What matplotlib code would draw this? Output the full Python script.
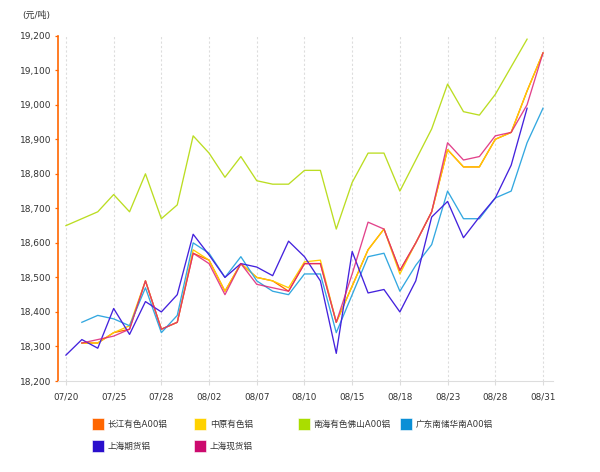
import numpy as np
import matplotlib
matplotlib.use("Agg")
import matplotlib.pyplot as plt
from matplotlib.patches import Rectangle

plt.rcParams["font.family"] = ["DejaVu Sans", "Noto Sans CJK SC"]

# ---- Data (yuan/ton) ----
dates = [
    "07/20", "07/21", "07/24", "07/25", "07/26", "07/27", "07/28", "07/31",
    "08/01", "08/02", "08/03", "08/04", "08/07", "08/08", "08/09", "08/10",
    "08/11", "08/14", "08/15", "08/16", "08/17", "08/18", "08/21", "08/22",
    "08/23", "08/24", "08/25", "08/28", "08/29", "08/30", "08/31",
]

changjiang = [None, 18310, 18310, 18340, 18350, 18490, 18350, 18370, 18570, 18550,
              18460, 18540, 18500, 18490, 18460, 18540, 18540, 18370, 18475, 18580,
              18640, 18520, 18600, 18690, 18870, 18820, 18820, 18900, 18920, 19040, 19150]
zhongyuan = [None, 18310, 18310, 18340, 18360, 18490, 18350, 18370, 18580, 18550,
             18460, 18540, 18500, 18490, 18470, 18545, 18550, 18370, 18475, 18580,
             18640, 18510, 18600, 18690, 18870, 18820, 18820, 18900, 18920, 19040, 19150]
nanhai = [18650, 18670, 18690, 18740, 18690, 18800, 18670, 18710, 18910, 18860,
          18790, 18850, 18780, 18770, 18770, 18810, 18810, 18640, 18775, 18860,
          18860, 18750, 18840, 18930, 19060, 18980, 18970, 19030, 19110, 19190, None]
guangdong = [None, 18370, 18390, 18380, 18360, 18470, 18340, 18390, 18600, 18570,
             18500, 18560, 18490, 18460, 18450, 18510, 18510, 18340, 18450, 18560,
             18570, 18460, 18535, 18595, 18750, 18670, 18670, 18730, 18750, 18890, 18990]
sh_futures = [18275, 18320, 18295, 18410, 18335, 18430, 18400, 18450, 18625, 18565,
              18500, 18540, 18530, 18505, 18605, 18560, 18490, 18280, 18575, 18455,
              18465, 18400, 18490, 18675, 18720, 18615, 18675, 18730, 18825, 18990, None]
sh_spot = [None, 18310, 18320, 18330, 18350, 18490, 18350, 18370, 18570, 18540,
           18450, 18540, 18480, 18470, 18460, 18540, 18540, 18370, 18510, 18660,
           18640, 18520, 18600, 18690, 18890, 18840, 18850, 18910, 18920, 19000, 19150]

names = ["长江有色A00铝", "中原有色铝", "南海有色佛山A00铝", "广东南储华南A00铝",
         "上海期货铝", "上海现货铝"]
series = [changjiang, zhongyuan, nanhai, guangdong, sh_futures, sh_spot]
line_colors = ["#FF6600", "#FFCC00", "#BBDD22", "#33A8E0", "#4422DD", "#DD2277"]
swatch_colors = ["#FF6600", "#FFD200", "#AADD00", "#0A8FD6", "#2A0FCC", "#CC0A6E"]
line_alpha = [1, 1, 1, 1, 1, 0.85]

W, H = 600, 472
fig = plt.figure(figsize=(W / 100, H / 100), dpi=100, facecolor="white")
ax = fig.add_axes([58 / W, (H - 381) / H, (553 - 58) / W, (381 - 35.7) / H])

x = np.arange(len(dates))
for vals, col, a in zip(series, line_colors, line_alpha):
    ax.plot(x, np.array(vals, dtype=float), color=col, lw=0.95, alpha=a)

ax.set_xlim(-0.5, len(dates) - 1 + 0.63)
ax.set_ylim(18200, 19200)

tick_idx = list(range(0, len(dates), 3))
ax.set_xticks(tick_idx)
ax.set_xticklabels([dates[i] for i in tick_idx], fontsize=6.3, color="#333333")
yt = np.arange(18200, 19201, 100)
ax.set_yticks(yt)
ax.set_yticklabels([f"{v:,}" for v in yt], fontsize=6.5, color="#333333")

ax.grid(axis="x", color="#DDDDDD", linestyle=(0, (2, 2)), lw=0.8)
ax.grid(axis="y", visible=False)
for s in ("top", "right"):
    ax.spines[s].set_visible(False)
ax.spines["left"].set_color("#FF6600")
ax.spines["left"].set_linewidth(1.2)
ax.spines["bottom"].set_color("#DDDDDD")
ax.spines["bottom"].set_linewidth(0.8)
ax.tick_params(axis="y", colors="#FF6600", length=2.5, width=0.9, pad=2, labelcolor="#333333")
ax.tick_params(axis="x", colors="#DDDDDD", length=3, width=0.8, pad=5, labelcolor="#333333")

fig.text(36 / W, 1 - 15 / H, "(元/吨)", fontsize=6.5, color="#333333", ha="center", va="center")

# ---- Legend ----
col_x = [92, 194, 298, 400]
row_y = [424, 446]
for k, (name, col) in enumerate(zip(names, swatch_colors)):
    lx = col_x[k % 4]
    ly = row_y[k // 4]
    fig.add_artist(Rectangle((lx / W, 1 - (ly + 6) / H), 12 / W, 12 / H,
                             transform=fig.transFigure, facecolor=col,
                             edgecolor="white", lw=0.4))
    fig.text((lx + 16) / W, 1 - ly / H, name, fontsize=6.2, color="#333333",
             ha="left", va="center")

fig.savefig("out.png", dpi=100, facecolor="white")
